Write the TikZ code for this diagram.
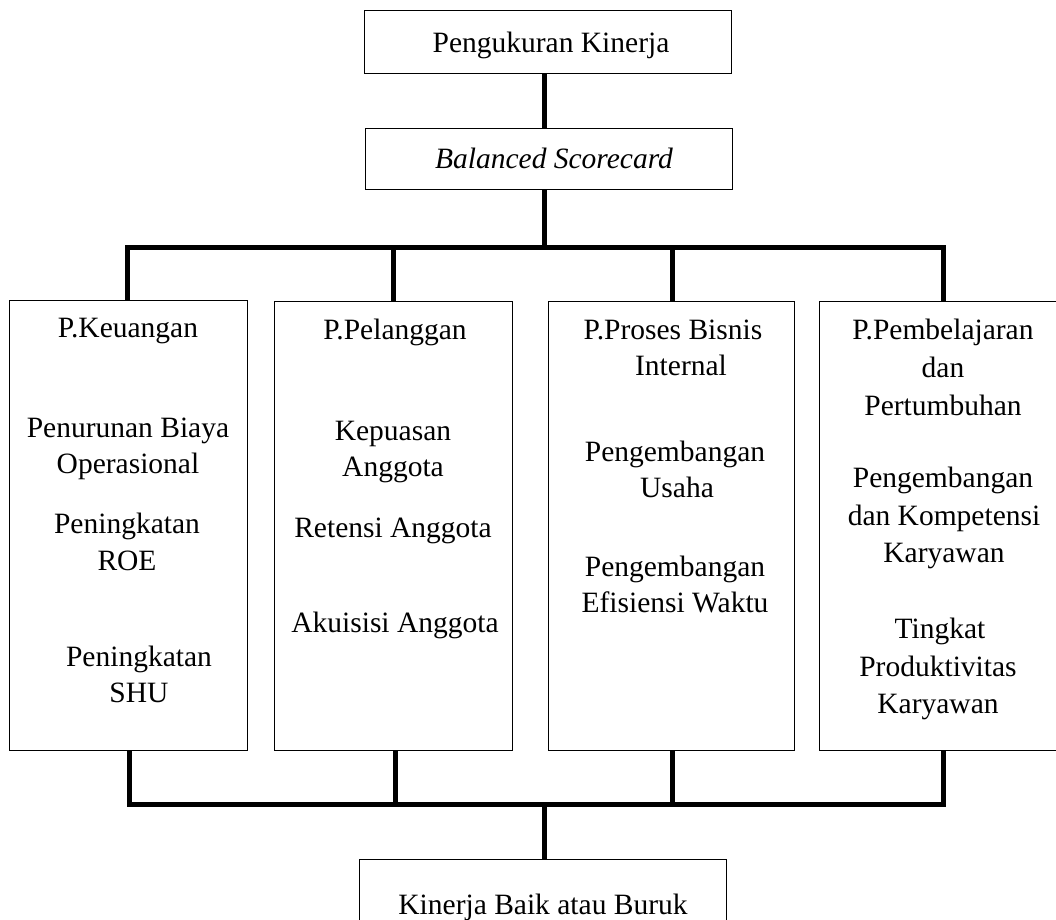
\documentclass[tikz,border=0pt]{standalone}
\usepackage{fontspec}
\setmainfont{Liberation Serif}
\begin{document}
\begin{tikzpicture}[x=1pt,y=-1pt,
  box/.style={draw, line width=1pt, inner sep=0pt},
  conn/.style={line width=5pt, line join=miter, line cap=butt},
  txt/.style={anchor=base, inner sep=0pt, font=\fontsize{29.5}{35}\selectfont}]
\useasboundingbox (0,0) rectangle (1056,919);
\clip (0,0) rectangle (1056,919);
% boxes
\node[box, minimum width=367, minimum height=63] (top) at (547.5,41.5) {};
\node[box, minimum width=367, minimum height=61] (bsc) at (548.5,158.5) {};
\node[box, minimum width=238, minimum height=450] (k) at (128,525) {};
\node[box, minimum width=238, minimum height=449] (p) at (393,525.5) {};
\node[box, minimum width=246, minimum height=449] (pb) at (671,525.5) {};
\node[box, minimum width=248, minimum height=449] (pp) at (943,525.5) {};
\node[box, minimum width=367, minimum height=81] (kb) at (542.5,899.5) {};
% connectors
\coordinate (hub) at (544,247);
\coordinate (u1) at (127,247);
\coordinate (u2) at (393,247);
\coordinate (u3) at (672,247);
\coordinate (u4) at (943,247);
\coordinate (l1) at (129,804);
\coordinate (l2) at (395,804);
\coordinate (l3) at (672,804);
\coordinate (l4) at (943,804);
\coordinate (lhub) at (544,804);
\draw[conn] (hub |- top.south) -- (hub |- bsc.north);
\draw[conn] (bsc.south -| hub) -- (hub);
\draw[conn] (u1 |- k.north) -- (u1) -- (u4) -- (u4 |- pp.north);
\draw[conn] (u2) -- (u2 |- p.north);
\draw[conn] (u3) -- (u3 |- pb.north);
\draw[conn] (l1 |- k.south) -- (l1) -- (l4) -- (l4 |- pp.south);
\draw[conn] (l2 |- p.south) -- (l2);
\draw[conn] (l3 |- pb.south) -- (l3);
\draw[conn] (lhub) -- (lhub |- kb.north);
% texts
\node[txt] (ttop) at (551,52) {Pengukuran Kinerja};
\node[txt] (tbsc) at (554,168) {\itshape Balanced Scorecard};
\node[txt] (tkb) at (543,914) {Kinerja Baik atau Buruk};
% box 1
\node[txt] (k1) at (128,337) {P.Keuangan};
\node[txt] (k2) at (128,437) {Penurunan Biaya};
\node[txt] (k3) at (128,473) {Operasional};
\node[txt] (k4) at (127,533) {Peningkatan};
\node[txt] (k5) at (127,570) {ROE};
\node[txt] (k6) at (139,666) {Peningkatan};
\node[txt] (k7) at (139,702) {SHU};
% box 2
\node[txt] (p1) at (395,339) {P.Pelanggan};
\node[txt] (p2) at (393,440) {Kepuasan};
\node[txt] (p3) at (393,476) {Anggota};
\node[txt] (p4) at (393,537) {Retensi Anggota};
\node[txt] (p5) at (395,632) {Akuisisi Anggota};
% box 3
\node[txt] (b1) at (673,339) {P.Proses Bisnis};
\node[txt] (b2) at (681,375) {Internal};
\node[txt] (b3) at (675,461) {Pengembangan};
\node[txt] (b4) at (677,497) {Usaha};
\node[txt] (b5) at (675,576) {Pengembangan};
\node[txt] (b6) at (675,612) {Efisiensi Waktu};
% box 4
\node[txt] (q1) at (943,339) {P.Pembelajaran};
\node[txt] (q2) at (943,377) {dan};
\node[txt] (q3) at (943,415) {Pertumbuhan};
\node[txt] (q4) at (943,487) {Pengembangan};
\node[txt] (q5) at (944,525) {dan Kompetensi};
\node[txt] (q6) at (944,562) {Karyawan};
\node[txt] (q7) at (940,638) {Tingkat};
\node[txt] (q8) at (938,676) {Produktivitas};
\node[txt] (q9) at (938,713) {Karyawan};
\end{tikzpicture}
\end{document}
